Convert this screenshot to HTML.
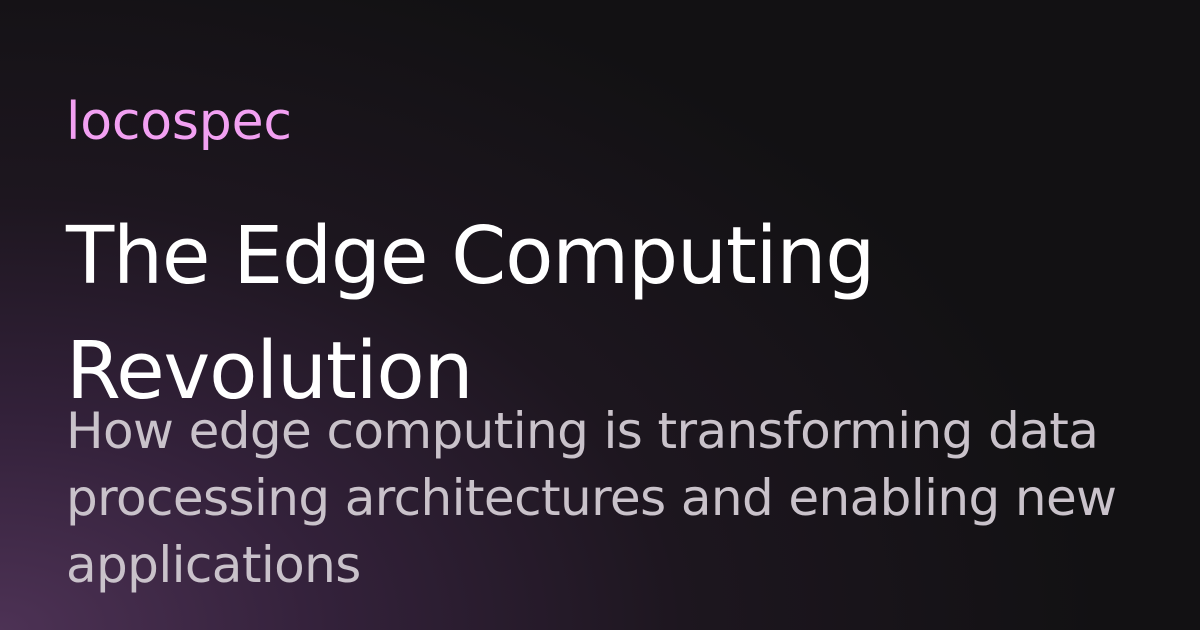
<!DOCTYPE html>
<html><head><meta charset="utf-8"><style>
html,body{margin:0;padding:0;}
body{width:1200px;height:630px;overflow:hidden;position:relative;
background:radial-gradient(ellipse 1100px 700px at 0% 100%, #4d3255 0%, #33213a 30%, #1d161f 62%, #121113 100%);
font-family:"DejaVu Sans","Liberation Sans",sans-serif;}
.t{position:absolute;left:66px;white-space:nowrap;}
#brand{top:92px;font-size:52px;color:#f2a0f2;letter-spacing:-0.2px;line-height:60px;}
#title{top:199px;font-size:79px;color:#fff;line-height:115px;letter-spacing:-1.2px;}
#sub{top:398px;font-size:50px;color:#c9c2ca;line-height:67px;letter-spacing:-0.6px;}
</style></head><body>
<div class="t" id="brand">locospec</div>
<div class="t" id="title">The Edge Computing<br>Revolution</div>
<div class="t" id="sub">How edge computing is transforming data<br>processing architectures and enabling new<br>applications</div>
</body></html>
